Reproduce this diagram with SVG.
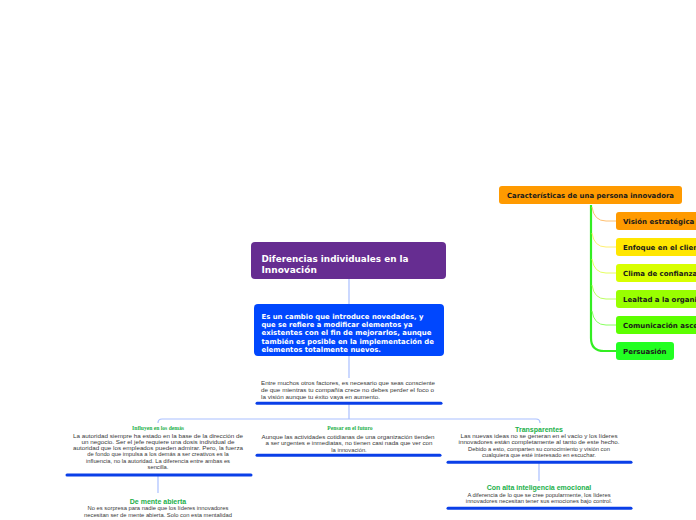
<svg xmlns="http://www.w3.org/2000/svg" width="696" height="520" viewBox="0 0 696 520">
<style>
.bx{font-family:"DejaVu Sans",Verdana,sans-serif;font-weight:bold;}
.body{font-family:"Liberation Sans",Arial,sans-serif;font-size:5.8px;fill:#383838;}
.mid{text-anchor:middle;}
.hs{font-family:"Liberation Sans",Arial,sans-serif;font-weight:bold;font-size:7px;fill:#22b04a;text-anchor:middle;}
.hserif{font-family:"Liberation Serif","Times New Roman",serif;font-weight:bold;font-size:5.6px;fill:#22b04a;text-anchor:middle;}
.ul{stroke:#0a3fe8;stroke-width:3;stroke-linecap:round;}
.lc{fill:none;stroke:#a9bfff;stroke-width:1.2;}
.child{font-size:7px;fill:#1a1a1a;}
</style>
<rect width="696" height="520" fill="#ffffff"/>
<g id="connectors">
  <line class="lc" x1="349" y1="279" x2="349" y2="304"/>
  <line class="lc" x1="349" y1="356" x2="349" y2="378"/>
  <line class="lc" x1="349" y1="404" x2="349" y2="419"/>
  <path class="lc" d="M158,423 Q158,419 162,419 H536 Q540,419 540,423"/>
  <line class="lc" x1="158" y1="476" x2="158" y2="493"/>
  <line class="lc" x1="539" y1="463" x2="539" y2="481"/>
  <path d="M591,205 V338 Q591,351 604,351 H616" fill="none" stroke="#33ee22" stroke-width="2.2"/>
  <path d="M592,207 Q594,221 606,221 H616" fill="none" stroke="#ffc070" stroke-width="1"/>
  <path d="M592,233 Q594,247 606,247 H616" fill="none" stroke="#fff070" stroke-width="1"/>
  <path d="M592,259 Q594,273 606,273 H616" fill="none" stroke="#e6ff60" stroke-width="1"/>
  <path d="M592,285 Q594,299 606,299 H616" fill="none" stroke="#bbff60" stroke-width="1"/>
  <path d="M592,311 Q594,325 606,325 H616" fill="none" stroke="#88ff60" stroke-width="1"/>
</g>
<g id="node-caracteristicas">
  <rect x="499" y="186" width="183" height="18" rx="3" fill="#ff9a00"/>
  <text class="bx child" x="507" y="197.6" textLength="167" lengthAdjust="spacingAndGlyphs">Características de una persona innovadora</text>
</g>
<g id="node-vision">
  <rect x="616" y="212" width="120" height="18" rx="3" fill="#ff9a00"/>
  <text class="bx child" x="623" y="223.5">Visión estratégica</text>
</g>
<g id="node-enfoque">
  <rect x="616" y="238" width="120" height="18" rx="3" fill="#ffe600"/>
  <text class="bx child" x="623" y="249.5">Enfoque en el cliente</text>
</g>
<g id="node-clima">
  <rect x="616" y="264" width="120" height="18" rx="3" fill="#d8ff00"/>
  <text class="bx child" x="623" y="275.5">Clima de confianza</text>
</g>
<g id="node-lealtad">
  <rect x="616" y="290" width="120" height="18" rx="3" fill="#99ff00"/>
  <text class="bx child" x="623" y="301.5">Lealtad a la organización</text>
</g>
<g id="node-comunicacion">
  <rect x="616" y="316" width="120" height="18" rx="3" fill="#5cff00"/>
  <text class="bx child" x="623" y="327.5">Comunicación ascendente</text>
</g>
<g id="node-persuasion">
  <rect x="616" y="342" width="58" height="18" rx="3" fill="#22ff22"/>
  <text class="bx child" x="623" y="353.5">Persuasión</text>
</g>
<g id="node-diferencias">
  <rect x="251" y="242" width="195" height="37" rx="4" fill="#662d91"/>
  <text class="bx" x="261.5" y="261.5" font-size="9" fill="#ffffff" textLength="147" lengthAdjust="spacingAndGlyphs">Diferencias individuales en la</text>
  <text class="bx" x="261.5" y="272.5" font-size="9" fill="#ffffff">Innovación</text>
</g>
<g id="node-cambio">
  <rect x="254" y="304" width="190" height="52" rx="4" fill="#0047fe"/>
  <g class="bx" font-size="7" fill="#ffffff">
    <text x="261.5" y="318.6" textLength="162" lengthAdjust="spacingAndGlyphs">Es un cambio que introduce novedades, y</text>
    <text x="261.5" y="326.9" textLength="151" lengthAdjust="spacingAndGlyphs">que se refiere a modificar elementos ya</text>
    <text x="261.5" y="335.2" textLength="170" lengthAdjust="spacingAndGlyphs">existentes con el fin de mejorarlos, aunque</text>
    <text x="261.5" y="343.5" textLength="172.5" lengthAdjust="spacingAndGlyphs">también es posible en la implementación de</text>
    <text x="261.5" y="351.8" textLength="119.5" lengthAdjust="spacingAndGlyphs">elementos totalmente nuevos.</text>
  </g>
</g>
<g id="node-entre">
  <text class="body" x="261" y="385.3" textLength="174" lengthAdjust="spacingAndGlyphs">Entre muchos otros factores, es necesario que seas consciente</text>
  <text class="body" x="261" y="392" textLength="173" lengthAdjust="spacingAndGlyphs">de que mientras tu compañía crece no debes perder el foco o</text>
  <text class="body" x="261" y="398.7" textLength="119" lengthAdjust="spacingAndGlyphs">la visión aunque tu éxito vaya en aumento.</text>
  <line class="ul" x1="257" y1="403.3" x2="441" y2="403.3"/>
</g>
<g id="node-influyen">
  <text class="hserif" x="158" y="430.2">Influyen en los demás</text>
  <g class="body mid">
    <text x="158" y="437.7" textLength="170" lengthAdjust="spacingAndGlyphs">La autoridad siempre ha estado en la base de la dirección de</text>
    <text x="158" y="443.9" textLength="153" lengthAdjust="spacingAndGlyphs">un negocio. Ser el jefe requiere una dosis individual de</text>
    <text x="158" y="450.1" textLength="170" lengthAdjust="spacingAndGlyphs">autoridad que los empleados pueden admirar. Pero, la fuerza</text>
    <text x="158" y="456.3">de fondo que impulsa a los demás a ser creativos es la</text>
    <text x="158" y="462.5">influencia, no la autoridad. La diferencia entre ambas es</text>
    <text x="158" y="468.7">sencilla.</text>
  </g>
  <line class="ul" x1="67" y1="475" x2="251" y2="475"/>
</g>
<g id="node-pensar">
  <text class="hserif" x="350" y="430.2">Pensar en el futuro</text>
  <g class="body mid">
    <text x="348" y="438.5" textLength="173" lengthAdjust="spacingAndGlyphs">Aunque las actividades cotidianas de una organización tienden</text>
    <text x="349" y="445" textLength="167" lengthAdjust="spacingAndGlyphs">a ser urgentes e inmediatas, no tienen casi nada que ver con</text>
    <text x="349" y="451.5">la innovación.</text>
  </g>
  <line class="ul" x1="257" y1="455.3" x2="440" y2="455.3"/>
</g>
<g id="node-transparentes">
  <text class="hs" x="539" y="431.5">Transparentes</text>
  <g class="body mid">
    <text x="539" y="437.8" textLength="157" lengthAdjust="spacingAndGlyphs">Las nuevas ideas no se generan en el vacío y los líderes</text>
    <text x="539" y="444.2" textLength="161" lengthAdjust="spacingAndGlyphs">innovadores están completamente al tanto de este hecho.</text>
    <text x="539" y="450.6">Debido a esto, comparten su conocimiento y visión con</text>
    <text x="539" y="457">cualquiera que esté interesado en escuchar.</text>
  </g>
  <line class="ul" x1="448" y1="462.3" x2="631" y2="462.3"/>
</g>
<g id="node-emocional">
  <text class="hs" x="539" y="490">Con alta inteligencia emocional</text>
  <g class="body mid">
    <text x="539" y="497">A diferencia de lo que se cree popularmente, los líderes</text>
    <text x="539" y="503.2">innovadores necesitan tener sus emociones bajo control.</text>
  </g>
  <line class="ul" x1="448" y1="508.3" x2="631" y2="508.3"/>
</g>
<g id="node-mente">
  <text class="hs" x="158" y="503.5">De mente abierta</text>
  <g class="body mid">
    <text x="158" y="510.4">No es sorpresa para nadie que los líderes innovadores</text>
    <text x="158" y="516.5">necesitan ser de mente abierta. Solo con esta mentalidad</text>
  </g>
</g>
</svg>
